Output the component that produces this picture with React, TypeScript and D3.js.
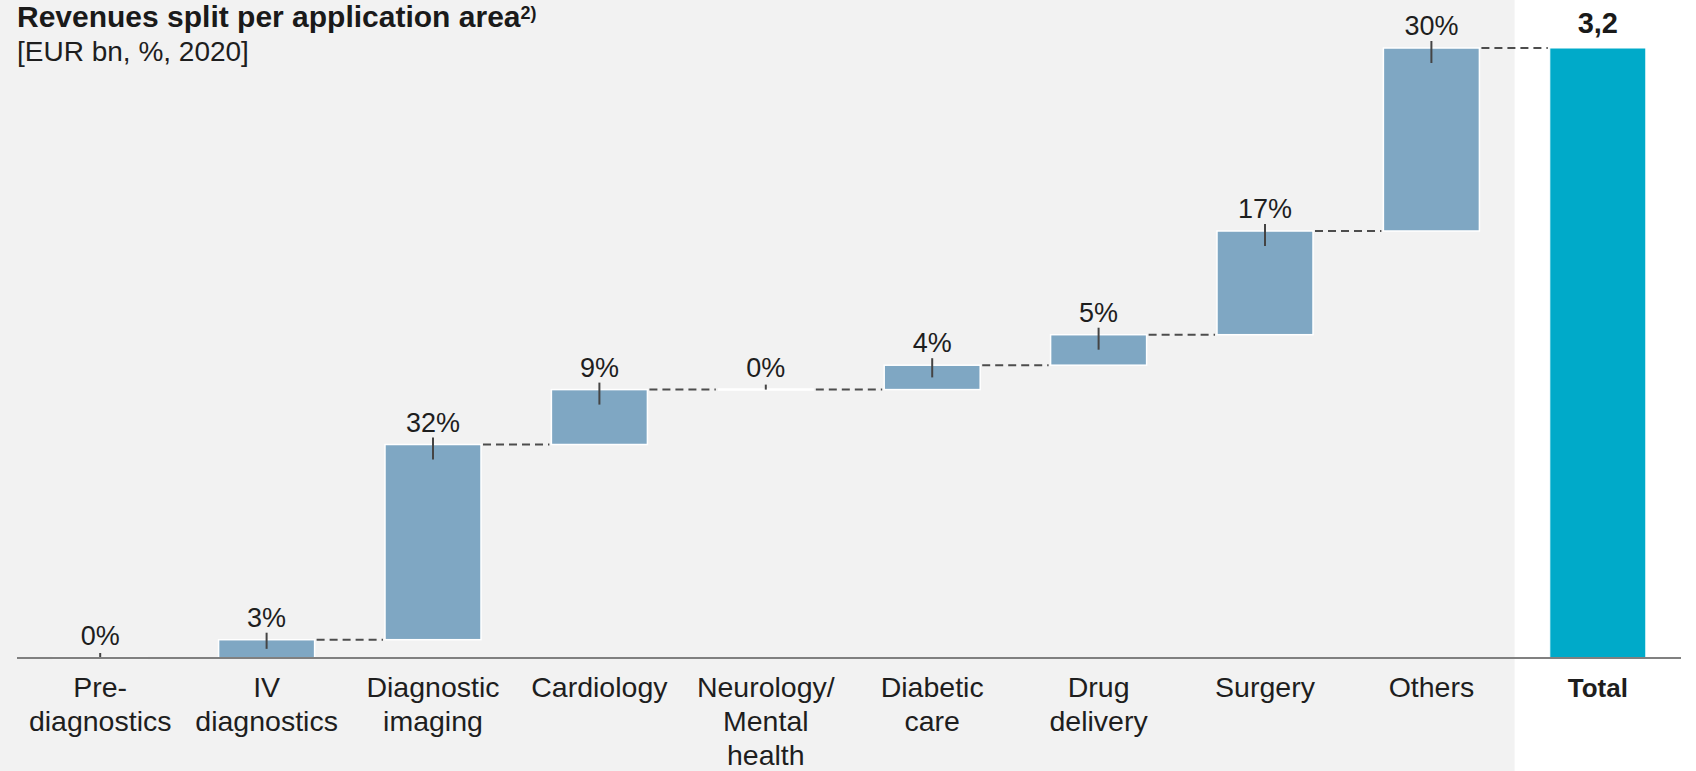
import React from 'react';
import * as d3 from 'd3';

// chart values
const categories = ['Pre-diagnostics', 'IV diagnostics', 'Diagnostic imaging', 'Cardiology', 'Neurology/Mental health', 'Diabetic care', 'Drug delivery', 'Surgery', 'Others', 'Total'];
const labelLines = [['Pre-', 'diagnostics'], ['IV', 'diagnostics'], ['Diagnostic', 'imaging'], ['Cardiology'], ['Neurology/', 'Mental', 'health'], ['Diabetic', 'care'], ['Drug', 'delivery'], ['Surgery'], ['Others'], ['Total']];
const shares = [0, 3, 32, 9, 0, 4, 5, 17, 30];
const totalValue = 3.2;
const totalLabel = '3,2';
const title = 'Revenues split per application area';
const subtitle = '[EUR bn, %, 2020]';

const W = 1696;
const H = 771;
const FONT = '"Liberation Sans", Arial, sans-serif';

export default function App() {
  const baseY = 658;
  const x = d3.scaleBand().domain(categories).range([17, 1681]).paddingInner(0.423).paddingOuter(0.2115);
  const y = d3.scaleLinear().domain([0, 100]).range([baseY, 48]);

  // waterfall steps
  const ends = Array.from(d3.cumsum(shares));
  const starts = ends.map((e, i) => e - shares[i]);
  const totalPct = d3.sum(shares);

  const bw = x.bandwidth();
  const grayEnd = (x(categories[8])! + bw + x(categories[9])!) / 2;

  return (
    <svg width={W} height={H} style={{ position: 'absolute', left: 0, top: 0 }} fontFamily={FONT}>
      <rect x={0} y={0} width={W} height={H} fill="#ffffff" />
      <rect x={0} y={0} width={grayEnd} height={H} fill="#f2f2f2" />

      <text x={17} y={27} fontSize={30} fontWeight="bold" fill="#1a1a1a">
        {title}
        <tspan fontSize={18} dy={-8}>2)</tspan>
      </text>
      <text x={17} y={61} fontSize={28} fill="#1e1e1e">{subtitle}</text>

      {/* connectors */}
      {ends.map((e, i) => {
        const x1 = x(categories[i])! + bw;
        const x2 = x(categories[i + 1])!;
        return (
          <line key={'c' + i} x1={x1 + 2} x2={x2 - 2} y1={y(e)} y2={y(e)}
            stroke="#4d4d4d" strokeWidth={2} strokeDasharray="8,5" />
        );
      })}

      {/* bars */}
      {shares.map((s, i) => {
        const top = y(starts[i] + s);
        const bot = y(starts[i]);
        if (s === 0) {
          return (
            <line key={'b' + i} x1={x(categories[i])} x2={x(categories[i])! + bw} y1={top} y2={top}
              stroke="#ffffff" strokeWidth={2.5} />
          );
        }
        return (
          <rect key={'b' + i} x={x(categories[i])} y={top} width={bw} height={bot - top}
            fill="#7fa7c3" stroke="#ffffff" strokeWidth={1.5} />
        );
      })}
      <rect x={x('Total')} y={y(totalPct)} width={bw} height={baseY - y(totalPct)} fill="#00aac9" stroke="#ffffff" strokeWidth={1} />

      {/* value ticks and labels */}
      {shares.map((s, i) => {
        const cx = x(categories[i])! + bw / 2;
        const top = y(starts[i] + s);
        const h = y(starts[i]) - top;
        return (
          <g key={'v' + i}>
            <line x1={cx} x2={cx} y1={top - (s > 0 ? 7 : 5)} y2={top + Math.min(15, h / 2)} stroke="#444" strokeWidth={2} />
            <text x={cx} y={top - 13} textAnchor="middle" fontSize={27} fill="#1e1e1e">{s + '%'}</text>
          </g>
        );
      })}
      <text x={x('Total')! + bw / 2} y={33} textAnchor="middle" fontSize={29} fontWeight="bold" fill="#1a1a1a">
        {totalValue === 3.2 ? totalLabel : String(totalValue)}
      </text>

      {/* axis */}
      <line x1={17} x2={1681} y1={baseY} y2={baseY} stroke="#808080" strokeWidth={2} />
      {labelLines.map((lines, i) => (
        <text key={'l' + i} x={x(categories[i])! + bw / 2} y={697} textAnchor="middle"
          fontSize={i === 9 ? 26 : 28.5} fontWeight={i === 9 ? 'bold' : 'normal'} fill="#1e1e1e">
          {lines.map((ln, j) => (
            <tspan key={j} x={x(categories[i])! + bw / 2} dy={j === 0 ? 0 : 34}>{ln}</tspan>
          ))}
        </text>
      ))}
    </svg>
  );
}
